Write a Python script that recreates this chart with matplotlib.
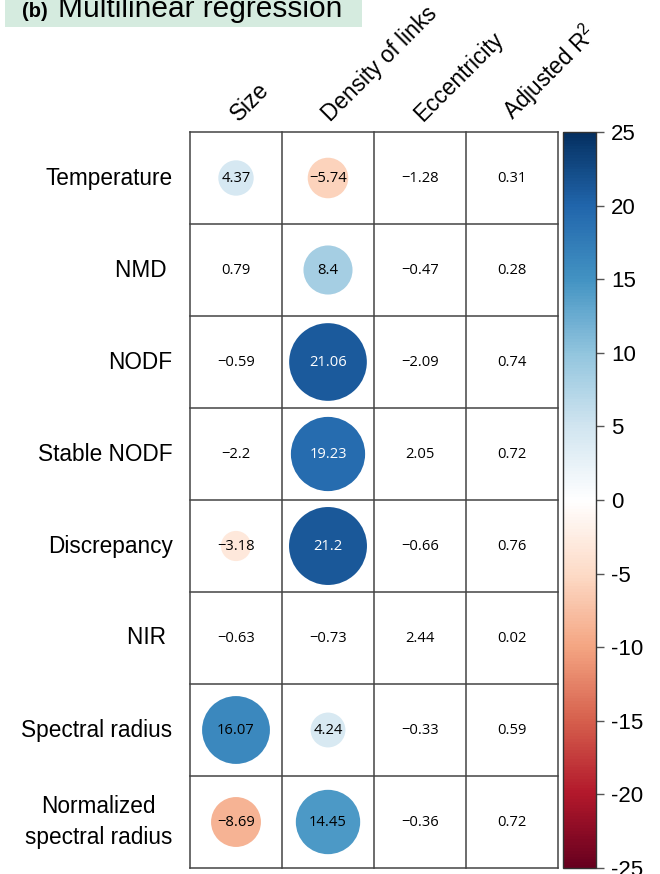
import numpy as np
import matplotlib
import matplotlib.pyplot as plt
from matplotlib.patches import Circle, Rectangle
from matplotlib.colors import LinearSegmentedColormap, Normalize
from matplotlib.cm import ScalarMappable

plt.rcParams['font.family'] = ['Liberation Sans', 'DejaVu Sans']
plt.rcParams['axes.unicode_minus'] = False

# t-values of the multilinear regression, one list per predictor column
rows = ["Temperature", "NMD ", "NODF", "Stable NODF", "Discrepancy", "NIR ",
        "Spectral radius", "Normalized\nspectral radius"]
cols = ["Size", "Density of links", "Eccentricity", "Adjusted R$\\mathregular{^2}$"]
size_t = [4.37, 0.79, -0.59, -2.2, -3.18, -0.63, 16.07, -8.69]
density_t = [-5.74, 8.4, 21.06, 19.23, 21.2, -0.73, 4.24, 14.45]
eccentricity_t = [-1.28, -0.47, -2.09, 2.05, -0.66, 2.44, -0.33, -0.36]
adj_r2 = [0.31, 0.28, 0.74, 0.72, 0.76, 0.02, 0.59, 0.72]
# significant cells get a circle
size_sig = [1, 0, 0, 0, 1, 0, 1, 1]
density_sig = [1, 1, 1, 1, 1, 0, 1, 1]
eccentricity_sig = [0, 0, 0, 0, 0, 0, 0, 0]
adj_r2_sig = [0, 0, 0, 0, 0, 0, 0, 0]

values = np.array([size_t, density_t, eccentricity_t, adj_r2]).T
sig = np.array([size_sig, density_sig, eccentricity_sig, adj_r2_sig]).T

cmap = LinearSegmentedColormap.from_list("rdbu2", [
    "#67001F", "#B2182B", "#D6604D", "#F4A582", "#FDDBC7", "#FFFFFF",
    "#D1E5F0", "#92C5DE", "#4393C3", "#2166AC", "#053061"])
norm = Normalize(-25, 25)

W, H = 660, 874
fig = plt.figure(figsize=(W / 100, H / 100), dpi=100)

def px_axes(x0, y0, x1, y1):
    return fig.add_axes([x0 / W, 1 - y1 / H, (x1 - x0) / W, (y1 - y0) / H])

# title box
fig.patches.append(Rectangle((5 / W, 1 - 27 / H), 357 / W, 40 / H,
                             transform=fig.transFigure, facecolor="#D5EBDF",
                             edgecolor="none", zorder=0))
fig.text(22 / W, 1 - 17 / H, "(b)", fontsize=14.5, fontweight="bold", va="baseline")
fig.text(58 / W, 1 - 17 / H, "Multilinear regression", fontsize=21.5, va="baseline")

ax = px_axes(190, 132, 558, 868)
nr, nc = values.shape
ax.set_xlim(0, nc)
ax.set_ylim(0, nr)
ax.axis("off")

for i in range(nr):
    y = nr - i - 0.5
    for j in range(nc):
        x = j + 0.5
        v = values[i, j]
        if sig[i, j]:
            r = 0.46 * np.sqrt(abs(v) / 25)
            ax.add_patch(Circle((x, y), r, facecolor=cmap(norm(v)), edgecolor="none"))
        txt = f"{v:g}".replace("-", "\u2212")
        col = "white" if sig[i, j] and abs(v) > 18 else "black"
        ax.text(x, y, txt, ha="center", va="center", fontsize=10.6,
                family=["Open Sans", "DejaVu Sans"], color=col)
    ax.text(-0.19, y, rows[i], ha="right", va="center", fontsize=16.3,
            multialignment="center", linespacing=1.4)

for k in range(nc + 1):
    ax.plot([k, k], [0, nr], color="#444444", lw=1.1, clip_on=False)
for k in range(nr + 1):
    ax.plot([0, nc], [k, k], color="#444444", lw=1.1, clip_on=False)

for j, c in enumerate(cols):
    ax.text(j + 0.57, nr + 0.07, c, rotation=45, rotation_mode="anchor",
            ha="left", va="bottom", fontsize=16.3)

cax = px_axes(563, 132, 596, 868)
cb = fig.colorbar(ScalarMappable(norm=norm, cmap=cmap), cax=cax,
                  ticks=np.arange(-25, 26, 5))
cb.outline.set_edgecolor("#333333")
cb.outline.set_linewidth(1.0)
cax.tick_params(labelsize=16, length=6, width=1, color="#555555", pad=5)

fig.savefig("out.png", dpi=100)
